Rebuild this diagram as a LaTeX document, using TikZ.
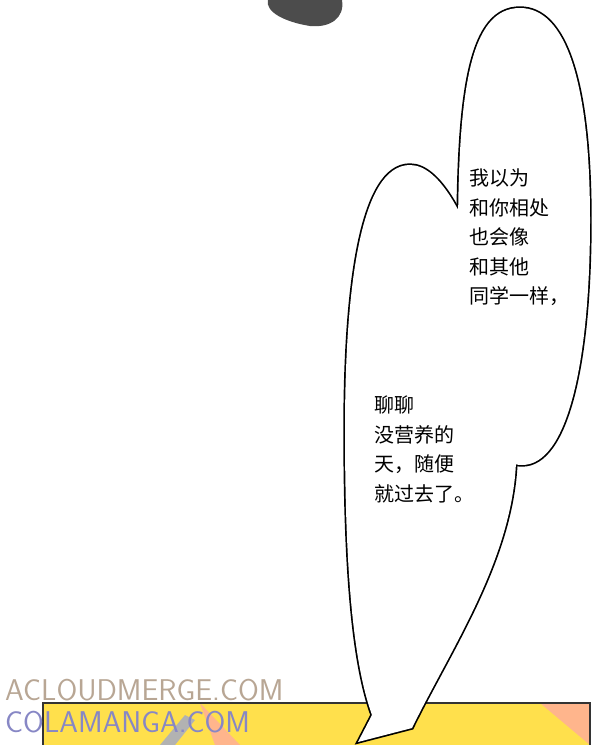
\documentclass[tikz,border=0pt]{standalone}
\usepackage{fontspec}
\newfontfamily\cjk{Noto Sans CJK SC}
\usetikzlibrary{positioning}
\tikzset{
  bubble/.style={draw=black, line width=3.4pt, fill=white},
  bubblefill/.style={fill=white},
  speech/.style={font=\cjk\fontsize{20}{29.5}\selectfont, align=left, anchor=north west, inner sep=0pt},
  wmark/.style={font=\sffamily\fontsize{30}{30}\selectfont, anchor=west, inner sep=0pt},
}
\begin{document}
\begin{tikzpicture}[x=1pt,y=-1pt]
  \useasboundingbox (0,0) rectangle (600,745);
  % panel below
  \fill[orange!35!yellow!70] (43,703) rectangle (590,745);
  \fill[orange!70!red!45] (200,703) -- (240,745) -- (215,745) -- cycle;
  \fill[orange!70!red!45] (540,703) -- (590,745) -- (590,703) -- cycle;
  \fill[gray!60] (160,745) -- (185,715) -- (195,720) -- (175,745) -- cycle;
  \draw[black!80, line width=2pt] (43,745) -- (43,703) -- (590,703) -- (590,745);
  % dark shape at top
  \fill[black!70] (268,0) .. controls (265,12) and (285,22) .. (310,26)
        .. controls (330,28) and (345,18) .. (342,0) -- cycle;
  % bubbles
  \path[bubble] (520,8) .. controls (470,8) and (458,90) .. (458,240)
        .. controls (458,380) and (480,465) .. (522,465)
        .. controls (568,465) and (590,360) .. (590,220)
        .. controls (590,80) and (565,8) .. (520,8) -- cycle;
  \path[bubble] (410,165) .. controls (360,165) and (345,290) .. (345,430)
        .. controls (345,560) and (352,660) .. (372,715)
        -- (358,742) -- (412,728)
        .. controls (450,650) and (512,560) .. (516,462)
        .. controls (520,380) and (470,165) .. (410,165) -- cycle;
  \path[bubblefill] (520,8) .. controls (470,8) and (458,90) .. (458,240)
        .. controls (458,380) and (480,465) .. (522,465)
        .. controls (568,465) and (590,360) .. (590,220)
        .. controls (590,80) and (565,8) .. (520,8) -- cycle;
  \path[bubblefill] (410,165) .. controls (360,165) and (345,290) .. (345,430)
        .. controls (345,560) and (352,660) .. (372,715)
        -- (358,742) -- (412,728)
        .. controls (450,650) and (512,560) .. (516,462)
        .. controls (520,380) and (470,165) .. (410,165) -- cycle;
  % texts
  \node[speech] (upper) at (469,169) {我以为\\和你相处\\也会像\\和其他\\同学一样，};
  \node[speech] (lower) at (374,396) {聊聊\\没营养的\\天，随便\\就过去了。};
  % watermarks
  \node[wmark, text=brown!40!gray!70] (wm1) at (5,690) {ACLOUDMERGE.COM};
  \node[wmark, text=blue!35!gray!70] (wm2) at (5,722) {COLAMANGA.COM};
\end{tikzpicture}
\end{document}
